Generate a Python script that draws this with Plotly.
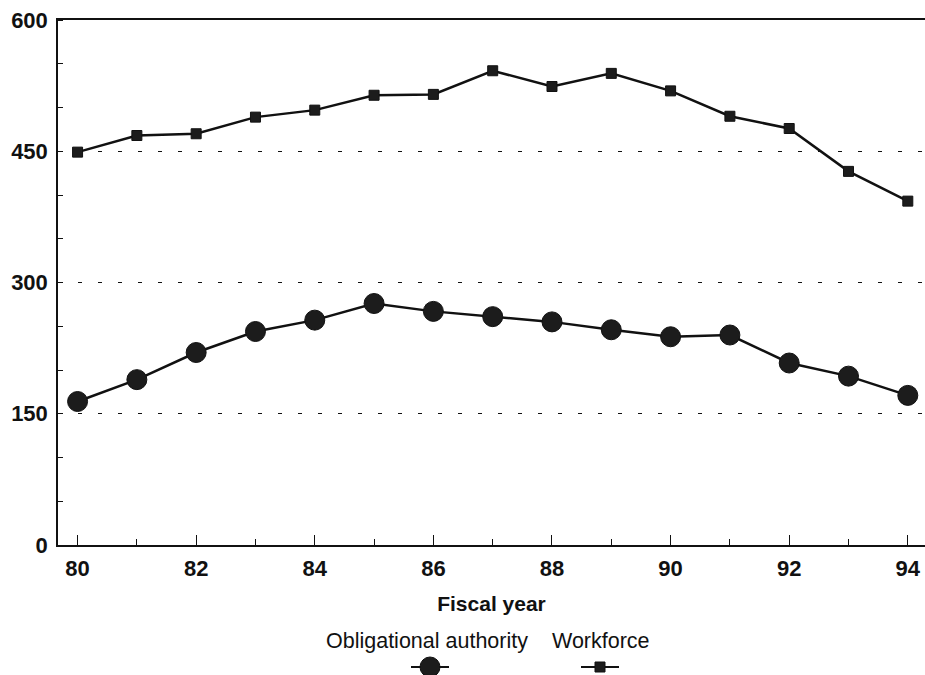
import plotly.graph_objects as go

years = list(range(80, 95))
workforce = [449, 468, 470, 489, 497, 514, 515, 542, 524, 539, 519, 490, 476, 427, 393]
oblig_authority = [164, 189, 220, 244, 257, 276, 267, 261, 255, 246, 238, 240, 208, 193, 171]
series_names = ["Obligational authority", "Workforce"]
y_ticks = [0, 150, 300, 450, 600]
x_ticks = [80, 82, 84, 86, 88, 90, 92, 94]

W, H = 925, 675
PLOT_L, PLOT_R, PLOT_T, PLOT_B = 58, 925, 20, 545  # plot area in pixels
L, T, R, B = PLOT_L, PLOT_T, W - PLOT_R, H - PLOT_B
pw, ph = PLOT_R - PLOT_L, PLOT_B - PLOT_T

def px(x):
    return (x - PLOT_L) / pw

def py(y):
    return (PLOT_B - y) / ph

FONT = "Liberation Sans, Arial, Helvetica, sans-serif"
INK = "#111111"

fig = go.Figure()
fig.add_trace(go.Scatter(
    x=years, y=oblig_authority, mode="lines+markers", name=series_names[0],
    line=dict(color=INK, width=2.5),
    marker=dict(symbol="circle", size=20, color="#1c1c1c", line=dict(color=INK, width=1)),
    showlegend=False, cliponaxis=False))
fig.add_trace(go.Scatter(
    x=years, y=workforce, mode="lines+markers", name=series_names[1],
    line=dict(color=INK, width=2.5),
    marker=dict(symbol="square", size=10, color="#1c1c1c", line=dict(color=INK, width=1)),
    showlegend=False, cliponaxis=False))

fig.update_layout(
    width=W, height=H,
    margin=dict(l=L, r=R, t=T, b=B, pad=0),
    paper_bgcolor="white", plot_bgcolor="white",
    font=dict(family=FONT, color=INK),
    xaxis=dict(
        range=[79.67, 94.29], tickvals=x_ticks, ticktext=[str(v) for v in x_ticks],
        ticks="inside", ticklen=10, tickwidth=1, tickcolor=INK,
        minor=dict(dtick=1, tick0=80, ticks="inside", ticklen=6, tickwidth=1, tickcolor=INK),
        showline=True, linecolor=INK, linewidth=1.5, mirror=True,
        showgrid=False, zeroline=False, ticklabeloverflow="allow",
        tickfont=dict(size=22, weight="bold"), ticklabelstandoff=3,
        title=dict(text="Fiscal year", font=dict(size=21, weight="bold"), standoff=16),
    ),
    yaxis=dict(
        range=[0, 600], tickvals=y_ticks, ticktext=[str(v) for v in y_ticks],
        ticks="", ticklabelstandoff=4, ticklabeloverflow="allow",
        minor=dict(dtick=50, tick0=0, ticks="inside", ticklen=5, tickwidth=1, tickcolor=INK, showgrid=False),
        showline=True, linecolor=INK, linewidth=1.5,
        showgrid=True, gridcolor=INK, gridwidth=1, griddash="4px,16px",
        zeroline=False,
        tickfont=dict(size=22, weight="bold"),
    ),
)

# custom legend: text above symbol
legend_items = [
    (series_names[0], 427, 430, "circle", 20),
    (series_names[1], 601, 600, "square", 10),
]
for text, tx, sx, sym, size in legend_items:
    fig.add_annotation(text=text, x=px(tx), y=py(641), xref="paper", yref="paper",
                       showarrow=False, font=dict(size=21.5, color=INK), xanchor="center", yanchor="middle")
    fig.add_shape(type="line", xref="paper", yref="paper",
                  x0=px(sx - 19), x1=px(sx + 19), y0=py(667), y1=py(667),
                  line=dict(color=INK, width=2))
    half = size / 2
    fig.add_shape(type="circle" if sym == "circle" else "rect",
                  xref="paper", yref="paper", xsizemode="pixel", ysizemode="pixel",
                  xanchor=px(sx), yanchor=py(667),
                  x0=-half, x1=half, y0=-half, y1=half,
                  fillcolor="#1c1c1c", line=dict(color=INK, width=1))

fig.write_html("out.html", config={"displayModeBar": False},
               post_script="document.body.style.margin='0';document.body.style.overflow='hidden';")
